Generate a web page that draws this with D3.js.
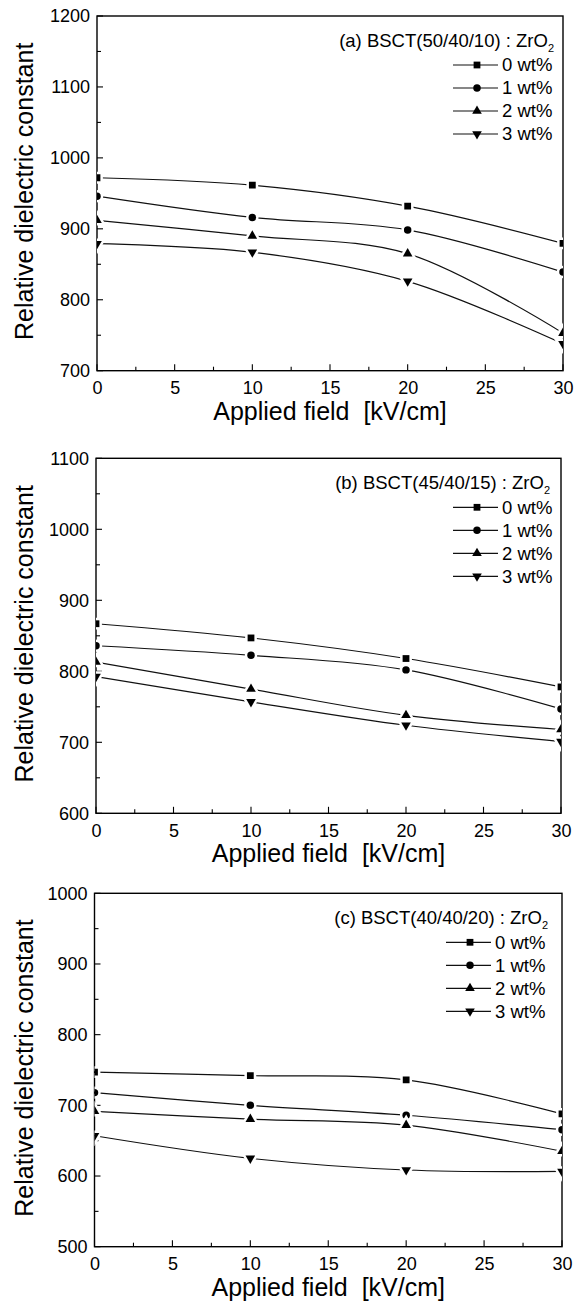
<!DOCTYPE html>
<html><head><meta charset="utf-8">
<script src="https://cdn.jsdelivr.net/npm/d3@7"></script>
<style>
body{margin:0;background:#fff}
svg{display:block}
text{font-family:"Liberation Sans",Arial,Helvetica,sans-serif;fill:#000}
</style>
</head><body>
<svg id="chart" width="585" height="1301"></svg>
<script>
// ---------------- data ----------------
const fields = [0, 10, 20, 30];                       // Applied field [kV/cm]
const seriesLabels = ["0 wt%", "1 wt%", "2 wt%", "3 wt%"];
const seriesSymbols = ["square", "circle", "triangle", "triangleDown"];
const panelTitles = ["(a) BSCT(50/40/10) : ZrO", "(b) BSCT(45/40/15) : ZrO", "(c) BSCT(40/40/20) : ZrO"];
const yDomains = [[700, 1200], [600, 1100], [500, 1000]];
const xTickValues = [0, 5, 10, 15, 20, 25, 30];
const xTitle = "Applied field  [kV/cm]";
const yTitle = "Relative dielectric constant";

// relative dielectric constant, one row per ZrO2 content (0,1,2,3 wt%)
const panelA = [
  [972, 961.5, 932, 879.5],
  [946, 916, 898.5, 839],
  [912, 890, 865, 753],
  [879, 867, 826, 738]
];
const panelB = [
  [867, 847, 818, 778],
  [836, 822.5, 802, 747],
  [813, 775, 738, 718],
  [792.5, 757, 724, 701]
];
const panelC = [
  [747, 742, 736, 688],
  [718, 700, 686, 665.5],
  [691.5, 680.5, 672, 635],
  [657, 625, 608.5, 606.5]
];
const panelData = [panelA, panelB, panelC];

// ---------------- layout ----------------
const layout = [
  {top: 16,    bottom: 370.7,  left: 97,   right: 563, labOff: 61, titleOff: 9},
  {top: 458.3, bottom: 813.3,  left: 96,   right: 561, labOff: 59, titleOff: 11},
  {top: 893.3, bottom: 1246.7, left: 94.5, right: 562, labOff: 67, titleOff: 14}
];

const svg = d3.select("#chart");
svg.append("rect").attr("width", 585).attr("height", 1301).attr("fill", "#fff");

const symbolType = {
  square: d3.symbolSquare, circle: d3.symbolCircle,
  triangle: d3.symbolTriangle, triangleDown: d3.symbolTriangle
};
const symbolSize = {square: 46, circle: 44, triangle: 40, triangleDown: 40};
function symbolPath(name) {
  return d3.symbol().type(symbolType[name]).size(symbolSize[name])();
}
function symbolRot(name) { return name === "triangleDown" ? " rotate(180)" : ""; }

layout.forEach((L, p) => {
  const x = d3.scaleLinear().domain([0, 30]).range([L.left, L.right]);
  const y = d3.scaleLinear().domain(yDomains[p]).range([L.bottom, L.top]);
  const g = svg.append("g");

  const clipId = "clip" + p;
  svg.append("clipPath").attr("id", clipId).append("rect")
    .attr("x", L.left).attr("y", L.top)
    .attr("width", L.right - L.left).attr("height", L.bottom - L.top);

  // minor ticks
  const yMinor = d3.range(yDomains[p][0], yDomains[p][1] + 1, 50);
  const xMinor = d3.range(0, 30.01, 2.5);
  g.selectAll(".ymin").data(yMinor).join("line")
    .attr("x1", L.left).attr("x2", d => L.left + (d % 100 === 0 ? 6 : 4))
    .attr("y1", d => y(d)).attr("y2", d => y(d))
    .attr("stroke", "#000").attr("stroke-width", 1.1);
  g.selectAll(".xmin").data(xMinor).join("line")
    .attr("x1", d => x(d)).attr("x2", d => x(d))
    .attr("y1", L.bottom).attr("y2", d => L.bottom - (d % 5 === 0 ? 6.5 : 4))
    .attr("stroke", "#000").attr("stroke-width", 1.1);

  // axes (labels via d3 axis generators)
  const yAxis = d3.axisLeft(y).tickValues(d3.range(yDomains[p][0], yDomains[p][1] + 1, 100))
    .tickSize(0).tickPadding(7).tickFormat(d3.format("d"));
  const xAxis = d3.axisBottom(x).tickValues(xTickValues).tickSize(0).tickPadding(11)
    .tickFormat(d3.format("d"));
  const ya = g.append("g").attr("transform", `translate(${L.left},0)`).call(yAxis);
  const xa = g.append("g").attr("transform", `translate(0,${L.bottom})`).call(xAxis);
  [ya, xa].forEach(a => {
    a.select(".domain").remove();
    a.selectAll("text").attr("font-size", 18).attr("font-family", '"Liberation Sans",Arial,sans-serif').attr("fill", "#000");
  });

  // frame
  g.append("rect").attr("x", L.left).attr("y", L.top)
    .attr("width", L.right - L.left).attr("height", L.bottom - L.top)
    .attr("fill", "none").attr("stroke", "#000").attr("stroke-width", 1.4);

  // axis titles
  g.append("text").attr("x", (L.left + L.right) / 2).attr("y", L.bottom + 49)
    .attr("text-anchor", "middle").attr("font-size", 25).text(xTitle).style("white-space", "pre");
  g.append("text").attr("transform", `translate(33,${(L.top + L.bottom) / 2 - 2}) rotate(-90)`)
    .attr("text-anchor", "middle").attr("font-size", 25).text(yTitle);

  // series
  const plot = g.append("g").attr("clip-path", `url(#${clipId})`);
  const line = d3.line().x((d, i) => x(fields[i])).y(d => y(d)).curve(d3.curveCatmullRom.alpha(0.5));
  panelData[p].forEach((vals, s) => {
    plot.append("path").attr("d", line(vals)).attr("fill", "none")
      .attr("stroke", "#111").attr("stroke-width", 1.2);
  });
  panelData[p].forEach((vals, s) => {
    plot.selectAll(null).data(vals).join("path")
      .attr("d", symbolPath(seriesSymbols[s]))
      .attr("transform", (d, i) => `translate(${x(fields[i])},${y(d)})${symbolRot(seriesSymbols[s])}`)
      .attr("fill", "#000").attr("stroke", "#fff").attr("stroke-width", 5)
      .style("paint-order", "stroke");
  });

  // legend
  const labX = L.right - L.labOff;
  const titleT = g.append("text").attr("x", L.right - L.titleOff).attr("y", L.top + 24.5)
    .attr("dy", "0.35em").attr("text-anchor", "end").attr("font-size", 18.5);
  titleT.append("tspan").text(panelTitles[p]);
  titleT.append("tspan").attr("font-size", 11).attr("dy", "0.45em").text("2");
  seriesLabels.forEach((lab, s) => {
    const ly = L.top + 49 + s * 23;
    g.append("line").attr("x1", labX - 49).attr("x2", labX - 4).attr("y1", ly).attr("y2", ly)
      .attr("stroke", "#111").attr("stroke-width", 1.2);
    g.append("path").attr("d", symbolPath(seriesSymbols[s]))
      .attr("transform", `translate(${labX - 25},${ly})${symbolRot(seriesSymbols[s])}`)
      .attr("fill", "#000");
    g.append("text").attr("x", labX).attr("y", ly).attr("dy", "0.35em")
      .attr("font-size", 18.5).text(lab);
  });
});
</script>
</body></html>
